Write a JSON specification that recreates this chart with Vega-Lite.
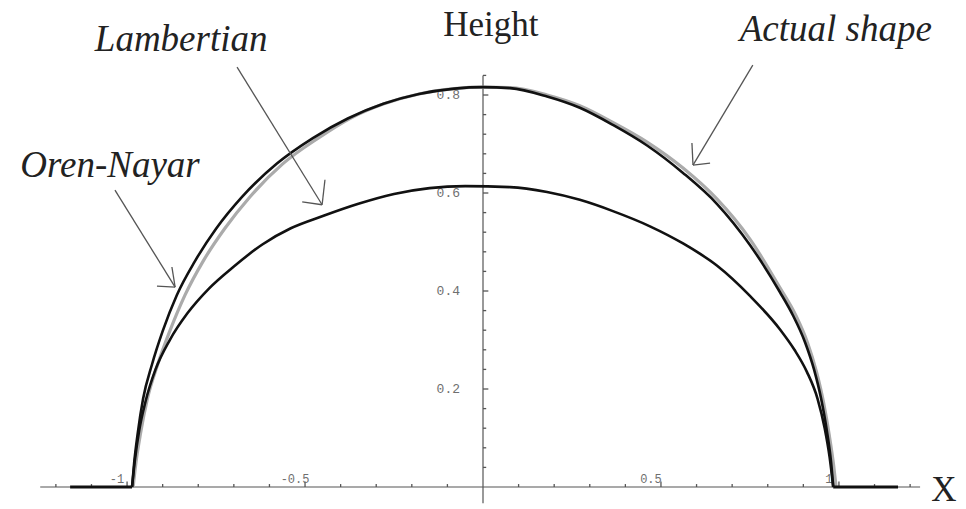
{
  "$schema": "https://vega.github.io/schema/vega-lite/v6.json",
  "width": 966,
  "height": 509,
  "autosize": {"type": "none"},
  "padding": 0,
  "background": "white",
  "view": {"stroke": null},
  "datasets": {
    "curves": [
      {"s": "Oren-Nayar", "x": -0.986, "y": 0},
      {"s": "Oren-Nayar", "x": -0.980, "y": 0.05},
      {"s": "Oren-Nayar", "x": -0.970, "y": 0.11},
      {"s": "Oren-Nayar", "x": -0.955, "y": 0.18},
      {"s": "Oren-Nayar", "x": -0.930, "y": 0.25},
      {"s": "Oren-Nayar", "x": -0.900, "y": 0.318},
      {"s": "Oren-Nayar", "x": -0.860, "y": 0.392},
      {"s": "Oren-Nayar", "x": -0.810, "y": 0.46},
      {"s": "Oren-Nayar", "x": -0.750, "y": 0.527},
      {"s": "Oren-Nayar", "x": -0.677, "y": 0.592},
      {"s": "Oren-Nayar", "x": -0.579, "y": 0.660},
      {"s": "Oren-Nayar", "x": -0.478, "y": 0.712},
      {"s": "Oren-Nayar", "x": -0.380, "y": 0.752},
      {"s": "Oren-Nayar", "x": -0.280, "y": 0.782},
      {"s": "Oren-Nayar", "x": -0.180, "y": 0.802},
      {"s": "Oren-Nayar", "x": -0.080, "y": 0.813},
      {"s": "Oren-Nayar", "x": 0, "y": 0.816},
      {"s": "Oren-Nayar", "x": 0.076, "y": 0.814},
      {"s": "Oren-Nayar", "x": 0.180, "y": 0.797},
      {"s": "Oren-Nayar", "x": 0.272, "y": 0.774},
      {"s": "Oren-Nayar", "x": 0.365, "y": 0.739},
      {"s": "Oren-Nayar", "x": 0.461, "y": 0.697},
      {"s": "Oren-Nayar", "x": 0.562, "y": 0.641},
      {"s": "Oren-Nayar", "x": 0.657, "y": 0.578},
      {"s": "Oren-Nayar", "x": 0.750, "y": 0.494},
      {"s": "Oren-Nayar", "x": 0.834, "y": 0.398},
      {"s": "Oren-Nayar", "x": 0.871, "y": 0.35},
      {"s": "Oren-Nayar", "x": 0.905, "y": 0.295},
      {"s": "Oren-Nayar", "x": 0.930, "y": 0.24},
      {"s": "Oren-Nayar", "x": 0.950, "y": 0.18},
      {"s": "Oren-Nayar", "x": 0.966, "y": 0.115},
      {"s": "Oren-Nayar", "x": 0.978, "y": 0.05},
      {"s": "Oren-Nayar", "x": 0.984, "y": 0},
      {"s": "Lambertian", "x": -0.986, "y": 0},
      {"s": "Lambertian", "x": -0.978, "y": 0.055},
      {"s": "Lambertian", "x": -0.966, "y": 0.115},
      {"s": "Lambertian", "x": -0.948, "y": 0.175},
      {"s": "Lambertian", "x": -0.920, "y": 0.24},
      {"s": "Lambertian", "x": -0.880, "y": 0.30},
      {"s": "Lambertian", "x": -0.830, "y": 0.355},
      {"s": "Lambertian", "x": -0.770, "y": 0.405},
      {"s": "Lambertian", "x": -0.700, "y": 0.45},
      {"s": "Lambertian", "x": -0.620, "y": 0.495},
      {"s": "Lambertian", "x": -0.540, "y": 0.528},
      {"s": "Lambertian", "x": -0.450, "y": 0.553},
      {"s": "Lambertian", "x": -0.350, "y": 0.578},
      {"s": "Lambertian", "x": -0.250, "y": 0.598},
      {"s": "Lambertian", "x": -0.150, "y": 0.61},
      {"s": "Lambertian", "x": -0.050, "y": 0.614},
      {"s": "Lambertian", "x": 0.076, "y": 0.612},
      {"s": "Lambertian", "x": 0.180, "y": 0.602},
      {"s": "Lambertian", "x": 0.272, "y": 0.586},
      {"s": "Lambertian", "x": 0.365, "y": 0.563},
      {"s": "Lambertian", "x": 0.469, "y": 0.532},
      {"s": "Lambertian", "x": 0.562, "y": 0.497},
      {"s": "Lambertian", "x": 0.657, "y": 0.452},
      {"s": "Lambertian", "x": 0.750, "y": 0.39},
      {"s": "Lambertian", "x": 0.834, "y": 0.322},
      {"s": "Lambertian", "x": 0.875, "y": 0.28},
      {"s": "Lambertian", "x": 0.910, "y": 0.235},
      {"s": "Lambertian", "x": 0.940, "y": 0.18},
      {"s": "Lambertian", "x": 0.960, "y": 0.12},
      {"s": "Lambertian", "x": 0.974, "y": 0.06},
      {"s": "Lambertian", "x": 0.984, "y": 0},
      {"s": "Actual shape", "x": -0.983, "y": 0},
      {"s": "Actual shape", "x": -0.975, "y": 0.05},
      {"s": "Actual shape", "x": -0.962, "y": 0.11},
      {"s": "Actual shape", "x": -0.943, "y": 0.18},
      {"s": "Actual shape", "x": -0.914, "y": 0.25},
      {"s": "Actual shape", "x": -0.880, "y": 0.318},
      {"s": "Actual shape", "x": -0.837, "y": 0.392},
      {"s": "Actual shape", "x": -0.787, "y": 0.46},
      {"s": "Actual shape", "x": -0.726, "y": 0.527},
      {"s": "Actual shape", "x": -0.655, "y": 0.592},
      {"s": "Actual shape", "x": -0.562, "y": 0.660},
      {"s": "Actual shape", "x": -0.463, "y": 0.712},
      {"s": "Actual shape", "x": -0.374, "y": 0.752},
      {"s": "Actual shape", "x": -0.278, "y": 0.782},
      {"s": "Actual shape", "x": -0.180, "y": 0.802},
      {"s": "Actual shape", "x": -0.080, "y": 0.813},
      {"s": "Actual shape", "x": 0, "y": 0.816},
      {"s": "Actual shape", "x": 0.076, "y": 0.815},
      {"s": "Actual shape", "x": 0.180, "y": 0.800},
      {"s": "Actual shape", "x": 0.272, "y": 0.778},
      {"s": "Actual shape", "x": 0.365, "y": 0.744},
      {"s": "Actual shape", "x": 0.461, "y": 0.704},
      {"s": "Actual shape", "x": 0.562, "y": 0.651},
      {"s": "Actual shape", "x": 0.657, "y": 0.588},
      {"s": "Actual shape", "x": 0.750, "y": 0.506},
      {"s": "Actual shape", "x": 0.834, "y": 0.407},
      {"s": "Actual shape", "x": 0.879, "y": 0.35},
      {"s": "Actual shape", "x": 0.912, "y": 0.294},
      {"s": "Actual shape", "x": 0.937, "y": 0.235},
      {"s": "Actual shape", "x": 0.957, "y": 0.172},
      {"s": "Actual shape", "x": 0.973, "y": 0.105},
      {"s": "Actual shape", "x": 0.985, "y": 0.045},
      {"s": "Actual shape", "x": 0.992, "y": 0}
    ],
    "flats": [
      {"x": -1.16, "y": 0, "x2": -0.986, "y2": 0},
      {"x": 0.984, "y": 0, "x2": 1.166, "y2": 0}
    ],
    "axes": [
      {"x": -1.244, "y": 0, "x2": 1.228, "y2": 0},
      {"x": 0, "y": -0.033, "x2": 0, "y2": 0.84}
    ],
    "ticks": [
      {"x": -1.2, "y": 0, "x2": -1.2, "y2": 0.006},
      {"x": -1.1, "y": 0, "x2": -1.1, "y2": 0.006},
      {"x": -1.0, "y": 0, "x2": -1.0, "y2": 0.011},
      {"x": -0.9, "y": 0, "x2": -0.9, "y2": 0.006},
      {"x": -0.8, "y": 0, "x2": -0.8, "y2": 0.006},
      {"x": -0.7, "y": 0, "x2": -0.7, "y2": 0.006},
      {"x": -0.6, "y": 0, "x2": -0.6, "y2": 0.006},
      {"x": -0.5, "y": 0, "x2": -0.5, "y2": 0.011},
      {"x": -0.4, "y": 0, "x2": -0.4, "y2": 0.006},
      {"x": -0.3, "y": 0, "x2": -0.3, "y2": 0.006},
      {"x": -0.2, "y": 0, "x2": -0.2, "y2": 0.006},
      {"x": -0.1, "y": 0, "x2": -0.1, "y2": 0.006},
      {"x": 0.1, "y": 0, "x2": 0.1, "y2": 0.006},
      {"x": 0.2, "y": 0, "x2": 0.2, "y2": 0.006},
      {"x": 0.3, "y": 0, "x2": 0.3, "y2": 0.006},
      {"x": 0.4, "y": 0, "x2": 0.4, "y2": 0.006},
      {"x": 0.5, "y": 0, "x2": 0.5, "y2": 0.011},
      {"x": 0.6, "y": 0, "x2": 0.6, "y2": 0.006},
      {"x": 0.7, "y": 0, "x2": 0.7, "y2": 0.006},
      {"x": 0.8, "y": 0, "x2": 0.8, "y2": 0.006},
      {"x": 0.9, "y": 0, "x2": 0.9, "y2": 0.006},
      {"x": 1.0, "y": 0, "x2": 1.0, "y2": 0.011},
      {"x": 1.1, "y": 0, "x2": 1.1, "y2": 0.006},
      {"x": 1.2, "y": 0, "x2": 1.2, "y2": 0.006},
      {"x": 0, "y": 0.04, "x2": 0.009, "y2": 0.04},
      {"x": 0, "y": 0.08, "x2": 0.009, "y2": 0.08},
      {"x": 0, "y": 0.12, "x2": 0.009, "y2": 0.12},
      {"x": 0, "y": 0.16, "x2": 0.009, "y2": 0.16},
      {"x": 0, "y": 0.20, "x2": 0.015, "y2": 0.20},
      {"x": 0, "y": 0.24, "x2": 0.009, "y2": 0.24},
      {"x": 0, "y": 0.28, "x2": 0.009, "y2": 0.28},
      {"x": 0, "y": 0.32, "x2": 0.009, "y2": 0.32},
      {"x": 0, "y": 0.36, "x2": 0.009, "y2": 0.36},
      {"x": 0, "y": 0.40, "x2": 0.015, "y2": 0.40},
      {"x": 0, "y": 0.44, "x2": 0.009, "y2": 0.44},
      {"x": 0, "y": 0.48, "x2": 0.009, "y2": 0.48},
      {"x": 0, "y": 0.52, "x2": 0.009, "y2": 0.52},
      {"x": 0, "y": 0.56, "x2": 0.009, "y2": 0.56},
      {"x": 0, "y": 0.60, "x2": 0.015, "y2": 0.60},
      {"x": 0, "y": 0.64, "x2": 0.009, "y2": 0.64},
      {"x": 0, "y": 0.68, "x2": 0.009, "y2": 0.68},
      {"x": 0, "y": 0.72, "x2": 0.009, "y2": 0.72},
      {"x": 0, "y": 0.76, "x2": 0.009, "y2": 0.76},
      {"x": 0, "y": 0.80, "x2": 0.015, "y2": 0.80},
      {"x": 0, "y": 0.84, "x2": 0.009, "y2": 0.84}
    ],
    "xlabels": [
      {"x": -1, "y": 0, "t": "-1"},
      {"x": -0.5, "y": 0, "t": "-0.5"},
      {"x": 0.5, "y": 0, "t": "0.5"},
      {"x": 1, "y": 0, "t": "1"}
    ],
    "ylabels": [
      {"x": 0, "y": 0.2, "t": "0.2"},
      {"x": 0, "y": 0.4, "t": "0.4"},
      {"x": 0, "y": 0.6, "t": "0.6"},
      {"x": 0, "y": 0.8, "t": "0.8"}
    ],
    "arrows": [
      {"x": -0.691, "y": 0.857, "x2": -0.452, "y2": 0.576},
      {"x": -0.508, "y": 0.582, "x2": -0.452, "y2": 0.576},
      {"x": -0.444, "y": 0.627, "x2": -0.452, "y2": 0.576},
      {"x": -1.034, "y": 0.606, "x2": -0.865, "y2": 0.408},
      {"x": -0.916, "y": 0.410, "x2": -0.865, "y2": 0.408},
      {"x": -0.874, "y": 0.449, "x2": -0.865, "y2": 0.408},
      {"x": 0.758, "y": 0.861, "x2": 0.590, "y2": 0.657},
      {"x": 0.638, "y": 0.661, "x2": 0.590, "y2": 0.657},
      {"x": 0.587, "y": 0.702, "x2": 0.590, "y2": 0.657}
    ],
    "notes": [
      {"x": -0.848, "y": 0.912, "t": "Lambertian"},
      {"x": -1.048, "y": 0.655, "t": "Oren-Nayar"},
      {"x": 0.991, "y": 0.933, "t": "Actual  shape"}
    ],
    "titles": [
      {"x": 0.022, "y": 0.943, "t": "Height"},
      {"x": 1.295, "y": -0.006, "t": "X"}
    ]
  },
  "encoding": {
    "x": {"field": "x", "type": "quantitative", "scale": {"domain": [-1.357, 1.357], "nice": false, "zero": false}, "axis": null},
    "y": {"field": "y", "type": "quantitative", "scale": {"domain": [-0.0449, 0.9939], "nice": false, "zero": false}, "axis": null}
  },
  "layer": [
    {
      "data": {"name": "axes"},
      "mark": {"type": "rule", "color": "#555555", "strokeWidth": 1.2},
      "encoding": {"x2": {"field": "x2"}, "y2": {"field": "y2"}}
    },
    {
      "data": {"name": "ticks"},
      "mark": {"type": "rule", "color": "#555555", "strokeWidth": 1.3},
      "encoding": {"x2": {"field": "x2"}, "y2": {"field": "y2"}}
    },
    {
      "data": {"name": "xlabels"},
      "mark": {"type": "text", "font": "Liberation Mono", "fontSize": 12, "color": "#6f6f6f", "dx": -10, "dy": -8, "align": "center", "baseline": "middle"},
      "encoding": {"text": {"field": "t"}}
    },
    {
      "data": {"name": "ylabels"},
      "mark": {"type": "text", "font": "Liberation Mono", "fontSize": 13, "color": "#6f6f6f", "dx": -23, "dy": 0, "align": "right", "baseline": "middle"},
      "encoding": {"text": {"field": "t"}}
    },
    {
      "data": {"name": "curves"},
      "transform": [{"filter": "datum.s === 'Actual shape'"}],
      "mark": {"type": "line", "color": "#ababab", "strokeWidth": 3.2, "interpolate": "monotone"},
      "encoding": {}
    },
    {
      "data": {"name": "curves"},
      "transform": [{"filter": "datum.s !== 'Actual shape'"}],
      "mark": {"type": "line", "color": "#111111", "strokeWidth": 2.6, "interpolate": "monotone"},
      "encoding": {"detail": {"field": "s"}}
    },
    {
      "data": {"name": "flats"},
      "mark": {"type": "rule", "color": "#111111", "strokeWidth": 3},
      "encoding": {"x2": {"field": "x2"}, "y2": {"field": "y2"}}
    },
    {
      "data": {"name": "arrows"},
      "mark": {"type": "rule", "color": "#555555", "strokeWidth": 1.3},
      "encoding": {"x2": {"field": "x2"}, "y2": {"field": "y2"}}
    },
    {
      "data": {"name": "notes"},
      "mark": {"type": "text", "font": "Liberation Serif", "fontStyle": "italic", "fontSize": 37, "color": "#222222", "align": "center", "baseline": "middle"},
      "encoding": {"text": {"field": "t"}}
    },
    {
      "data": {"name": "titles"},
      "mark": {"type": "text", "font": "Liberation Serif", "fontSize": 35, "color": "#222222", "align": "center", "baseline": "middle"},
      "encoding": {"text": {"field": "t"}}
    }
  ]
}
